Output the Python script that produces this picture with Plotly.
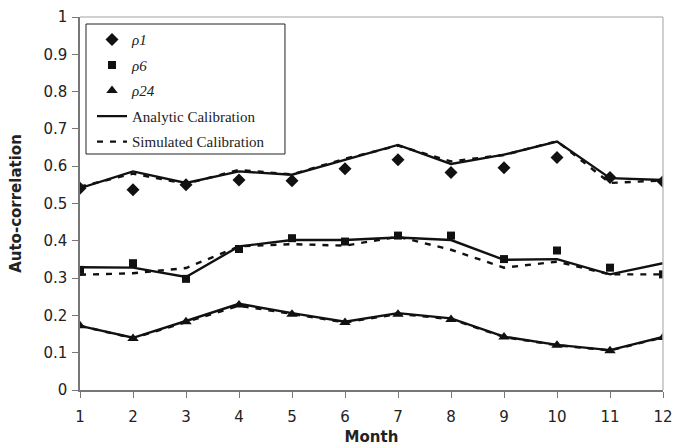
import plotly.graph_objects as go

months = list(range(1, 13))
rho1 = [0.541, 0.537, 0.550, 0.563, 0.561, 0.593, 0.617, 0.583, 0.596, 0.623, 0.570, 0.559]
rho6 = [0.322, 0.340, 0.298, 0.378, 0.407, 0.398, 0.414, 0.414, 0.351, 0.374, 0.328, 0.310]
rho24 = [0.172, 0.138, 0.183, 0.228, 0.203, 0.181, 0.203, 0.189, 0.142, 0.120, 0.105, 0.141]

ana1 = [0.541, 0.586, 0.555, 0.586, 0.577, 0.617, 0.657, 0.606, 0.631, 0.666, 0.568, 0.563]
ana6 = [0.329, 0.328, 0.303, 0.385, 0.402, 0.402, 0.409, 0.402, 0.349, 0.351, 0.310, 0.340]
ana24 = [0.172, 0.140, 0.185, 0.231, 0.206, 0.183, 0.206, 0.192, 0.143, 0.121, 0.107, 0.142]

sim1 = [0.545, 0.580, 0.553, 0.590, 0.578, 0.620, 0.655, 0.613, 0.630, 0.667, 0.555, 0.562]
sim6 = [0.309, 0.313, 0.327, 0.385, 0.391, 0.387, 0.411, 0.376, 0.328, 0.344, 0.310, 0.310]
sim24 = [0.172, 0.139, 0.182, 0.226, 0.204, 0.181, 0.204, 0.190, 0.142, 0.120, 0.106, 0.141]

fig = go.Figure()
LW = 2.4
DASH = "6px,7px"
for y in [ana1, ana6, ana24]:
    fig.add_trace(go.Scatter(x=months, y=y, mode="lines", name="Analytic Calibration",
                             line=dict(color="#111", width=LW), showlegend=False))
for y in [sim1, sim6, sim24]:
    fig.add_trace(go.Scatter(x=months, y=y, mode="lines", name="Simulated Calibration",
                             line=dict(color="#111", width=LW, dash=DASH), showlegend=False))
fig.add_trace(go.Scatter(x=months, y=rho1, mode="markers", name="<i>ρ1</i>", legendgroup="g1",
                         marker=dict(symbol="diamond", size=10, color="#111"), legendrank=1))
fig.add_trace(go.Scatter(x=months, y=rho6, mode="markers", name="<i>ρ6</i>", legendgroup="g2",
                         marker=dict(symbol="square", size=8, color="#111"), legendrank=2))
fig.add_trace(go.Scatter(x=months, y=rho24, mode="markers", name="<i>ρ24</i>", legendgroup="g3",
                         marker=dict(symbol="triangle-up", size=10, color="#111"), legendrank=3))
fig.add_trace(go.Scatter(x=[None], y=[None], mode="lines", name="Analytic Calibration",
                         legendgroup="g4", line=dict(color="#111", width=LW), legendrank=4))
fig.add_trace(go.Scatter(x=[None], y=[None], mode="lines", name="Simulated Calibration",
                         legendgroup="g5", line=dict(color="#111", width=LW, dash=DASH),
                         legendrank=5))

fig.update_layout(
    width=675, height=448,
    margin=dict(l=80, r=12, t=17, b=58),
    plot_bgcolor="white", paper_bgcolor="white",
    font=dict(family="DejaVu Sans, Arial", size=15, color="#222"),
    legend=dict(x=0.0206, y=0.983, xanchor="left", yanchor="top",
                borderwidth=0, bgcolor="rgba(0,0,0,0)",
                font=dict(family="Liberation Serif, Times New Roman", size=15, color="#222"),
                tracegroupgap=3),
    xaxis=dict(range=[1, 12], tickmode="array", tickvals=months, automargin=False,
               ticks="outside", ticklen=6, tickcolor="#777", showline=True,
               linecolor="#777", linewidth=1.5, showgrid=False, zeroline=False,
               ticklabelstandoff=6,
               title=dict(text="<b>Month</b>", standoff=7, font=dict(size=15))),
    yaxis=dict(range=[0, 1], dtick=0.1, ticks="outside", ticklen=6, tickcolor="#777",
               showline=True, linecolor="#777", linewidth=1.5, showgrid=False, zeroline=False,
               ticklabelstandoff=2, automargin=False,
               title=dict(text="<b>Auto-correlation</b>", standoff=18, font=dict(size=15))),
    shapes=[
        dict(type="line", xref="paper", yref="paper", x0=0, x1=1, y0=1, y1=1,
             line=dict(color="#c0c0c0", width=1.5)),
        dict(type="line", xref="paper", yref="paper", x0=1, x1=1, y0=0, y1=1,
             line=dict(color="#c0c0c0", width=1.5)),
        dict(type="rect", xref="paper", yref="paper", x0=0.0103, x1=0.3516,
             y0=0.6327, y1=0.9812, line=dict(color="#222", width=1), fillcolor="white",
             layer="below"),
    ],
)

fig.write_html("out.html")
